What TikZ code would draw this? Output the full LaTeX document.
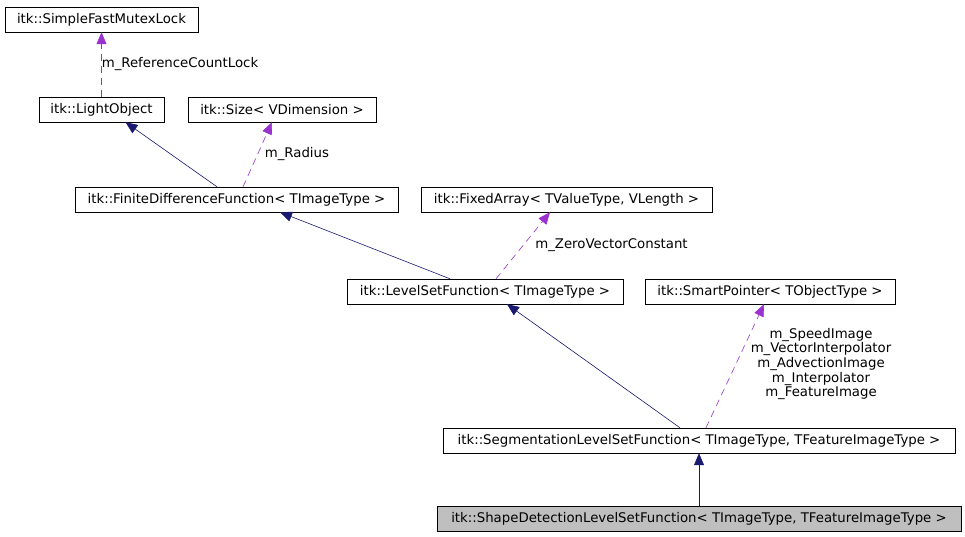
\documentclass[tikz,border=0pt]{standalone}
\usepackage{xcolor}
\usepackage{fontspec}
\setmainfont{DejaVu Sans}
\usepackage{tikz}
\usetikzlibrary{arrows.meta, positioning, calc}
\definecolor{inheritblue}{HTML}{191970}
\definecolor{memberpurple}{HTML}{9A32CD}
\definecolor{focusgray}{HTML}{BFBFBF}
\tikzstyle{classbox} = [rectangle, draw=black, fill=white, inner sep=0pt, minimum height=25pt, text centered, font=\fontsize{13.3}{15}\selectfont]
\tikzstyle{inherit} = [inheritblue, line width=0.6pt, -{Triangle[length=12pt, width=10pt]}]
\tikzstyle{member} = [memberpurple, line width=0.6pt, dash pattern=on 7pt off 5pt, -{Triangle[length=12pt, width=10pt]}]
\tikzstyle{memlabel} = [inner sep=0pt, text=black, font=\fontsize{13.3}{14.7}\selectfont]

\begin{document}
\begin{tikzpicture}[x=1pt, y=-1pt]
    % Collaboration graph, pixel coordinates of the page
    \useasboundingbox (0,0) rectangle (965,536);
    \node[classbox, minimum width=193pt] (mutex) at (101.5,19.5) {itk::SimpleFastMutexLock};
    \node[classbox, minimum width=125pt] (light) at (101.5,109.5) {itk::LightObject};
    \node[classbox, minimum width=188pt] (size) at (282,109.5) {itk::Size< VDimension >};
    \node[classbox, minimum width=323pt] (fdf) at (236.5,199.5) {itk::FiniteDifferenceFunction< TImageType >};
    \node[classbox, minimum width=291pt] (fixed) at (566.5,199.5) {itk::FixedArray< TValueType, VLength >};
    \node[classbox, minimum width=276pt] (lsf) at (485,291.5) {itk::LevelSetFunction< TImageType >};
    \node[classbox, minimum width=250pt] (smart) at (770,291.5) {itk::SmartPointer< TObjectType >};
    \node[classbox, minimum width=512pt] (seg) at (699,440.5) {itk::SegmentationLevelSetFunction< TImageType, TFeatureImageType >};
    \node[classbox, minimum width=524pt, fill=focusgray] (shape) at (699,518.5) {itk::ShapeDetectionLevelSetFunction< TImageType, TFeatureImageType >};

    % members
    \draw[member] (light.north) -- node[memlabel, anchor=west, pos=0.5] {m\_ReferenceCountLock} (mutex.south);
    \draw[member] ([xshift=6.5pt]fdf.north) -- node[memlabel, anchor=west, pos=0.5, xshift=7pt] {m\_Radius} ([xshift=-10pt]size.south);
    \draw[member] ([xshift=11pt]lsf.north) -- node[memlabel, anchor=west, pos=0.5, xshift=12pt] {m\_ZeroVectorConstant} ([xshift=-16.5pt]fixed.south);
    \draw[member] ([xshift=7pt]seg.north) -- ([xshift=-6pt]smart.south);
    \node[memlabel, align=center] (smartlbl) at (821,364) {m\_SpeedImage\\m\_VectorInterpolator\\m\_AdvectionImage\\m\_Interpolator\\m\_FeatureImage};

    % inheritance
    \draw[inherit] ([xshift=-19.5pt]fdf.north) -- ([xshift=24pt]light.south);
    \draw[inherit] ([xshift=-35pt]lsf.north) -- ([xshift=43.5pt]fdf.south);
    \draw[inherit] ([xshift=-19pt]seg.north) -- ([xshift=22pt]lsf.south);
    \draw[inherit] (shape.north) -- (seg.south);
\end{tikzpicture}
\end{document}
